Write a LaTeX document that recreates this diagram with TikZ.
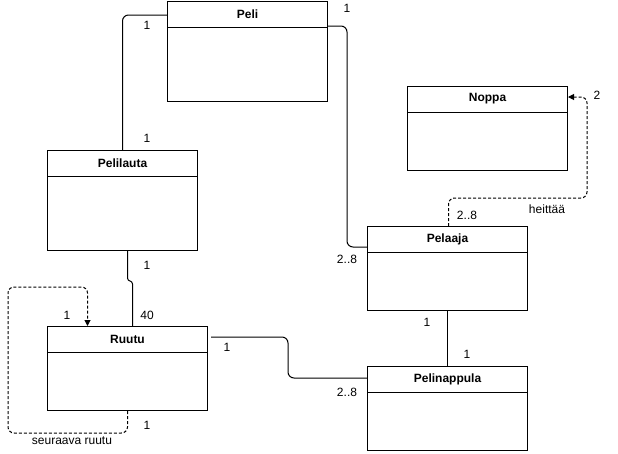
\documentclass[tikz,border=0pt]{standalone}
\usepackage{fontspec}
\setmainfont{Liberation Sans}
\usetikzlibrary{arrows.meta}

\begin{document}
\begin{tikzpicture}[x=1pt,y=-1pt,line width=1pt,
  classbox/.style={draw, anchor=north west, minimum width=160pt, inner sep=0pt},
  title/.style={font=\fontsize{12}{14}\selectfont\bfseries},
  mult/.style={font=\fontsize{12}{14}\selectfont},
  assoc/.style={rounded corners=6pt},
  dep/.style={dashed, dash pattern=on 3pt off 2pt, rounded corners=6pt, -{Triangle[length=6pt,width=6pt]}}]

\useasboundingbox (0,0) rectangle (618,453);

% classes
\node[classbox, minimum height=100pt] (peli) at (167,1) {};
\node[classbox, minimum height=84pt] (noppa) at (407,86) {};
\node[classbox, minimum height=100pt, minimum width=150pt] (pelilauta) at (47,150) {};
\node[classbox, minimum height=84pt] (pelaaja) at (367,226) {};
\node[classbox, minimum height=84pt] (ruutu) at (47,326) {};
\node[classbox, minimum height=84pt] (pelinappula) at (367,366) {};

\foreach \c in {peli,noppa,pelilauta,pelaaja,ruutu,pelinappula} {
	\draw ([yshift=-26pt]\c.north west) -- ([yshift=-26pt]\c.north east);
}

\node[title] (pelit) at ([yshift=-13pt]peli.north) {Peli};
\node[title] (noppat) at ([yshift=-13pt]noppa.north) {Noppa};
\node[title] (pelilautat) at ([yshift=-13pt]pelilauta.north) {Pelilauta};
\node[title] (pelaajat) at ([yshift=-13pt]pelaaja.north) {Pelaaja};
\node[title] (ruutut) at ([yshift=-13pt]ruutu.north) {Ruutu};
\node[title] (pelinappulat) at ([yshift=-13pt]pelinappula.north) {Pelinappula};

% associations
\draw[assoc] ([yshift=-14pt]peli.north west) -| (pelilauta.north);
\draw[assoc] ([yshift=-25pt]peli.north east) -| ([xshift=-20pt,yshift=-21pt]pelaaja.north west) -- ([yshift=-21pt]pelaaja.north west);
\draw ([xshift=5pt]pelilauta.south) -- ++(0,27) .. controls +(0,4) and +(0,-4) .. ++(5,6) -- ([xshift=5pt]ruutu.north);
\draw[assoc] ([yshift=-11pt,xshift=3pt]ruutu.north east) -| (288,357) |- ([yshift=-12pt]pelinappula.north west);
\draw (pelaaja) -- (pelinappula);

% dependencies
\draw[dep] (ruutu.south) -- ++(0,22) -| (8,287) -| ([xshift=-40pt]ruutu.north);
\draw[dep] ([xshift=1pt]pelaaja.north) |- (587,198) |- ([yshift=-11pt]noppa.north east);

% multiplicities
\node[mult] (m1) at (147,25) {1};
\node[mult] (m2) at (147,138) {1};
\node[mult] (m3) at (347,8) {1};
\node[mult] (m4) at (347,259) {2..8};
\node[mult] (m5) at (597,95) {2};
\node[mult] (m6) at (467,215) {2..8};
\node[mult] (m7) at (547,209) {heittää};
\node[mult] (m8) at (147,265) {1};
\node[mult] (m9) at (147,315) {40};
\node[mult] (m10) at (67,315) {1};
\node[mult] (m11) at (147,425) {1};
\node[mult] (m12) at (72,441) {seuraava ruutu};
\node[mult] (m13) at (227,347) {1};
\node[mult] (m14) at (347,392) {2..8};
\node[mult] (m15) at (427,322) {1};
\node[mult] (m16) at (467,354) {1};
\end{tikzpicture}
\end{document}
